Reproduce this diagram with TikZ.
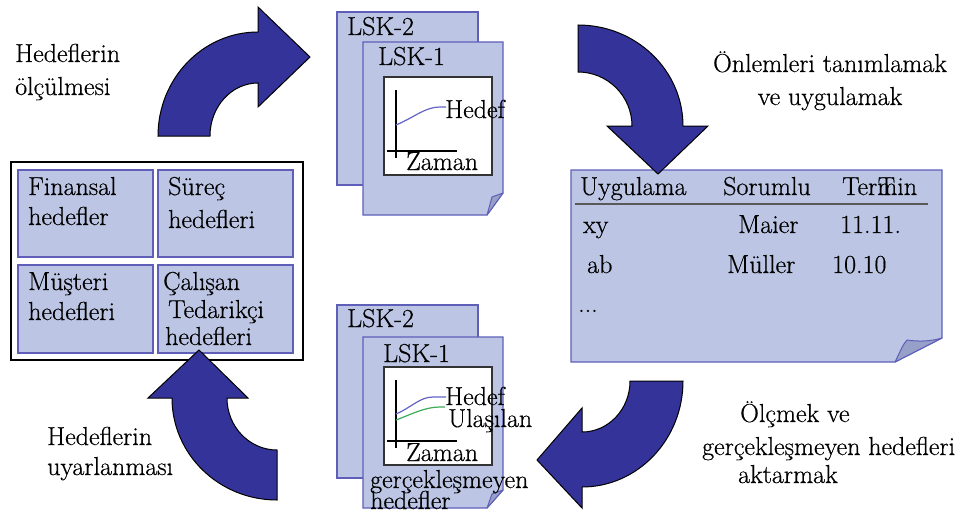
\documentclass[tikz,border=0pt]{standalone}
\usepackage{fontspec}
\newfontfamily\lmr{Latin Modern Roman}[FakeBold=0.5]
\definecolor{lav}{RGB}{188,198,228}
\definecolor{edge}{RGB}{95,95,185}
\definecolor{foldc}{RGB}{150,160,200}
\definecolor{arrowc}{RGB}{51,51,153}
\definecolor{ulgreen}{RGB}{60,170,90}
\definecolor{hedefblue}{RGB}{100,100,200}
\tikzset{
 txt/.style={font=\lmr\fontsize{26}{30}\selectfont, inner sep=0pt, anchor=base west},
 ctxt/.style={txt, anchor=base},
 page/.style={fill=lav, draw=edge, line width=1.2pt},
 fold/.style={fill=foldc, draw=edge, line width=1pt, line join=round},
 bigarrow/.style={fill=arrowc, draw=black, line width=1pt, line join=miter},
 chart/.style={fill=white, draw=black!80, line width=1.5pt},
 axisline/.style={draw=black, line width=1.5pt},
 goalbox/.style={fill=lav, draw=edge, line width=1.2pt},
}
\begin{document}
\begin{tikzpicture}[x=1pt,y=-1pt]
\useasboundingbox (0,0) rectangle (963,519);
\fill[white] (0,0) rectangle (963,519);

% ---------- left goal box ----------
\draw[black, fill=white, line width=2pt] (11,162) rectangle (303,360);
\path[goalbox] (18,170) rectangle (153,257);
\path[goalbox] (158,170) rectangle (293,257);
\path[goalbox] (18,265) rectangle (153,353);
\path[goalbox] (158,265) rectangle (293,353);
\node[txt] (fin1) at (28,195) {Finansal};
\node[txt] (fin2) at (28,225) {hedefler};
\node[txt] (sur1) at (168,195) {Süreç};
\node[txt] (sur2) at (168,228) {hedefleri};
\node[txt] (mus1) at (28,290) {Müşteri};
\node[txt] (mus2) at (28,320) {hedefleri};
\node[txt] (cal1) at (163,290) {Çalışan};
\node[txt] (cal2) at (168,318) {Tedarikçi};
\node[txt] (cal3) at (165,345) {hedefleri};

% ---------- top LSK documents ----------
\path[page] (337,12) rectangle (478,185);
\path[page] (363,42) -- (503,42) -- (503,193) -- (487,215) -- (363,215) -- cycle;
\path[fold] (487,215) -- (492,197) -- (503,193) -- cycle;
\path[chart] (384,77) rectangle (492,175);
\draw[axisline] (396,90) -- (396,158);
\draw[axisline] (387,151) -- (457,151);
\draw[hedefblue, line width=1.2pt] (396,125) .. controls (415,117) and (425,107) .. (440,107) -- (446,107);
\node[txt] (tl2) at (347,35) {LSK-2};
\node[txt] (tl1) at (378,65) {LSK-1};
\node[txt] (th) at (445,118) {Hedef};
\node[txt] (tz) at (406,170) {Zaman};

% ---------- bottom LSK documents ----------
\path[page] (337,305) rectangle (478,478);
\path[page] (363,337) -- (503,337) -- (503,490) -- (487,508) -- (363,508) -- cycle;
\path[fold] (487,508) -- (492,494) -- (503,490) -- cycle;
\path[chart] (384,367) rectangle (492,465);
\draw[axisline] (396,380) -- (396,448);
\draw[axisline] (387,441) -- (457,441);
\draw[hedefblue, line width=1.2pt] (396,414) .. controls (412,407) and (420,397) .. (433,397) -- (446,397);
\draw[ulgreen, line width=1.2pt] (396,420) .. controls (412,414) and (425,407) .. (440,407) -- (445,407);
\node[txt] (bl2) at (347,327) {LSK-2};
\node[txt] (bl1) at (383,362) {LSK-1};
\node[txt] (bh) at (445,405) {Hedef};
\node[txt] (bu) at (448,427) {Ulaşılan};
\node[txt] (bz) at (406,461) {Zaman};
\node[txt] (bg1) at (370,488) {gerçekleşmeyen};
\node[txt] (bg2) at (370,509) {hedefler};

% ---------- table page ----------
\path[page] (571,170) -- (942,170) -- (942,338) -- (895,362) -- (571,362) -- cycle;
\path[fold] (895,362) .. controls (900,352) and (903,344) .. (907,340) .. controls (920,342) and (932,341) .. (942,338) -- cycle;
\draw[black!65, line width=2.5pt] (575,204) -- (928,204);
\node[txt] (h1) at (580,195) {Uygulama};
\node[txt] (h2) at (723,195) {Sorumlu};
\node[txt] (h3) at (842,195) {Termin};
\node[txt] (h3b) at ([xshift=2pt]h3.base east) [anchor=base east, xshift=-24pt] {T};
\node[txt] (r1a) at (583,233) {xy};
\node[txt] (r1b) at (738,233) {Maier};
\node[txt] (r1c) at (840,233) {11.11.};
\node[txt] (r2a) at (587,273) {ab};
\node[txt] (r2b) at (727,273) {Müller};
\node[txt] (r2c) at (832,273) {10.10};
\node[txt] (r3a) at (578,312) {...};

% ---------- labels ----------
\node[txt] (l1a) at (15,62) {Hedeflerin};
\node[txt] (l1b) at (15,95) {ölçülmesi};
\node[ctxt] (l2a) at (830,72) {Önlemleri tanımlamak};
\node[ctxt] (l2b) at (830,105) {ve uygulamak};
\node[txt] (l3a) at (740,422) {Ölçmek ve};
\node[txt] (l3b) at (702,455) {gerçekleşmeyen hedefleri};
\node[txt] (l3c) at (738,483) {aktarmak};
\node[txt] (l4a) at (47,445) {Hedeflerin};
\node[txt] (l4b) at (47,475) {uyarlanması};

% ---------- big curved arrows ----------
\path[bigarrow] (158,136) .. controls (158,78.6) and (202.8,32) .. (258,32) -- (258,7) -- (310,57) -- (258,107) -- (258,83) .. controls (231.5,83) and (210,106.7) .. (210,136) -- cycle;
\path[bigarrow] (578,25) .. controls (636,25) and (683,70.2) .. (683,126) -- (708,126) -- (658,174) -- (607,126) -- (632,126) .. controls (632,96.2) and (607.8,72) .. (578,72) -- cycle;
\path[bigarrow] (630,381) -- (683,381) .. controls (683,439.5) and (637.8,487) .. (582,487) -- (582,508) -- (537,460) -- (582,408) -- (582,432) .. controls (608.5,432) and (630,409.2) .. (630,381) -- cycle;
\path[bigarrow] (277,450) -- (277,500) .. controls (219,500) and (172,454.3) .. (172,398) -- (148,398) -- (199,350) -- (248,398) -- (227,398) .. controls (227,426.7) and (249.4,450) .. (277,450) -- cycle;
\end{tikzpicture}
\end{document}
